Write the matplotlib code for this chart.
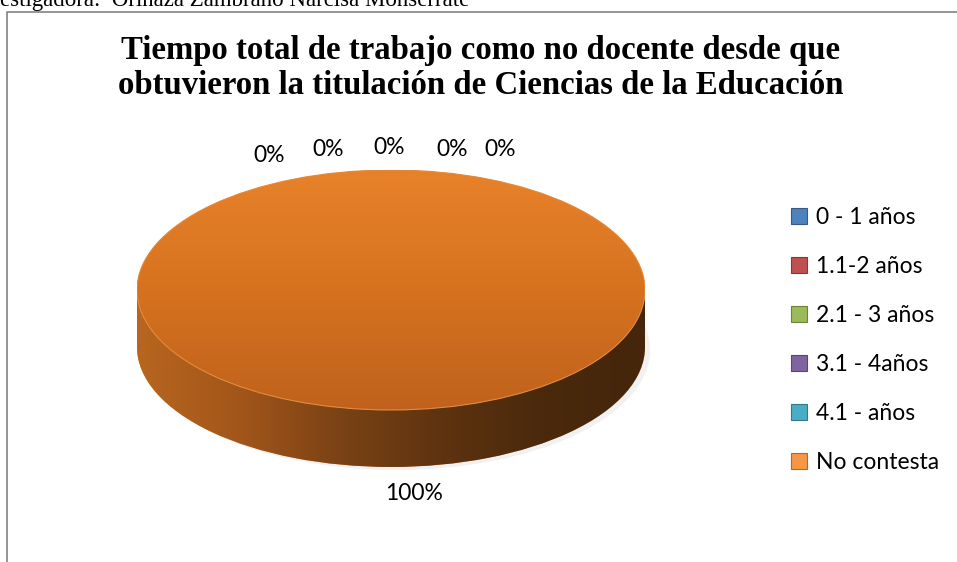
import matplotlib
matplotlib.use('Agg')
import matplotlib.pyplot as plt
import numpy as np
from matplotlib.colors import LinearSegmentedColormap, to_rgb
from matplotlib.patches import Rectangle, Patch, Ellipse
from matplotlib.lines import Line2D

# datos del grafico
categorias = ['0 - 1 años', '1.1-2 años', '2.1 - 3 años', '3.1 - 4años', '4.1 - años', 'No contesta']
frecuencia = [0, 0, 0, 0, 0, 100]
colores = ['#4f81bd', '#c0504d', '#9bbb59', '#8064a2', '#4bacc6', '#f79646']
titulo = ('Tiempo total de trabajo como no docente desde que\n'
          'obtuvieron la titulación de Ciencias de la Educación')
encabezado = 'estigadora:  Orinaza Zambrano Narcisa Monserrate'

W, H = 957, 562
fig = plt.figure(figsize=(W / 100, H / 100), dpi=100)


def fx(x):
    return x / W


def fy(y):
    return 1 - y / H


sans = ['Lato', 'DejaVu Sans']
serif = ['Liberation Serif', 'DejaVu Serif']

# marco del grafico
fig.add_artist(Line2D([fx(7), fx(7), fx(957)], [fy(562), fy(12), fy(12)],
                      color='#8c8c8c', lw=1.3))
fig.text(fx(0), fy(6), encabezado, family=serif, fontsize=16.5, va='baseline', ha='left')
fig.text(fx(481), fy(68), titulo, family=serif, fontsize=23.6, fontweight='bold',
         ha='center', va='center', linespacing=1.2)

# pastel 3D
prof = 0.475
ax = fig.add_axes([fx(137), fy(467), (645 - 137) / W, (467 - 170) / H])

sombra, _ = ax.pie(frecuencia, center=(0.02, -prof - 0.025), colors=['#d8d8d8'] * 6,
                   startangle=90, counterclock=False)
for w in sombra:
    w.set_alpha(0.35)
    w.set_zorder(0.5)

lado, _ = ax.pie(frecuencia, center=(0, -prof), colors=colores, startangle=90,
                 counterclock=False)
rect = Rectangle((-1, -prof), 2, prof, transform=ax.transData, color='none')
ax.add_patch(rect)

grad_lado = LinearSegmentedColormap.from_list(
    'lado', ['#b8661f', '#a2561a', '#7a4215', '#5e3310', '#4a290c', '#45260b'])
gx = grad_lado(np.linspace(0, 1, 256))[None, :, :3]
for p in list(lado) + [rect]:
    p.set_zorder(1)
    im = ax.imshow(gx, extent=(-1, 1, -1 - prof, 0), aspect='auto', zorder=1.5,
                   interpolation='bilinear')
    im.set_clip_path(p)

arriba, _ = ax.pie(frecuencia, colors=colores, startangle=90, counterclock=False)
grad_arriba = LinearSegmentedColormap.from_list('arriba', ['#e8822a', '#d6721f', '#c0621d'])
gy = grad_arriba(np.linspace(0, 1, 256))[:, None, :3]
for w in arriba:
    w.set_zorder(2)
    im = ax.imshow(gy, extent=(-1, 1, -1, 1), aspect='auto', zorder=2.5,
                   interpolation='bilinear')
    im.set_clip_path(w)

# borde claro del tope
ax.add_patch(Ellipse((0, 0), 2, 2, fill=False, edgecolor='#e38a3a', lw=0.8, zorder=3))

ax.set_aspect('auto')
ax.set_xlim(-1, 1)
ax.set_ylim(-1 - prof, 1)
ax.axis('off')

# etiquetas de porcentaje
total = sum(frecuencia)
etiquetas = [f'{v / total * 100:.0f}%' for v in frecuencia]
pos_etiquetas = [(269, 156), (328, 149), (389, 147), (452, 150), (500, 150), (414, 494)]
for txt, (x, y) in zip(etiquetas, pos_etiquetas):
    fig.text(fx(x), fy(y), txt, family=sans, fontsize=16.5, ha='center', va='center')

# leyenda
handles = [Patch(facecolor=c, edgecolor=tuple(v * 0.7 for v in to_rgb(c)), lw=0.8)
           for c in colores]
fig.legend(handles, categorias, loc='upper left', bbox_to_anchor=(fx(791), fy(207)),
           frameon=False, prop=dict(family=sans, size=16.5), handlelength=0.68,
           handleheight=0.68, handletextpad=0.4, labelspacing=1.22, borderpad=0,
           borderaxespad=0)

fig.savefig('out.png', dpi=100)
